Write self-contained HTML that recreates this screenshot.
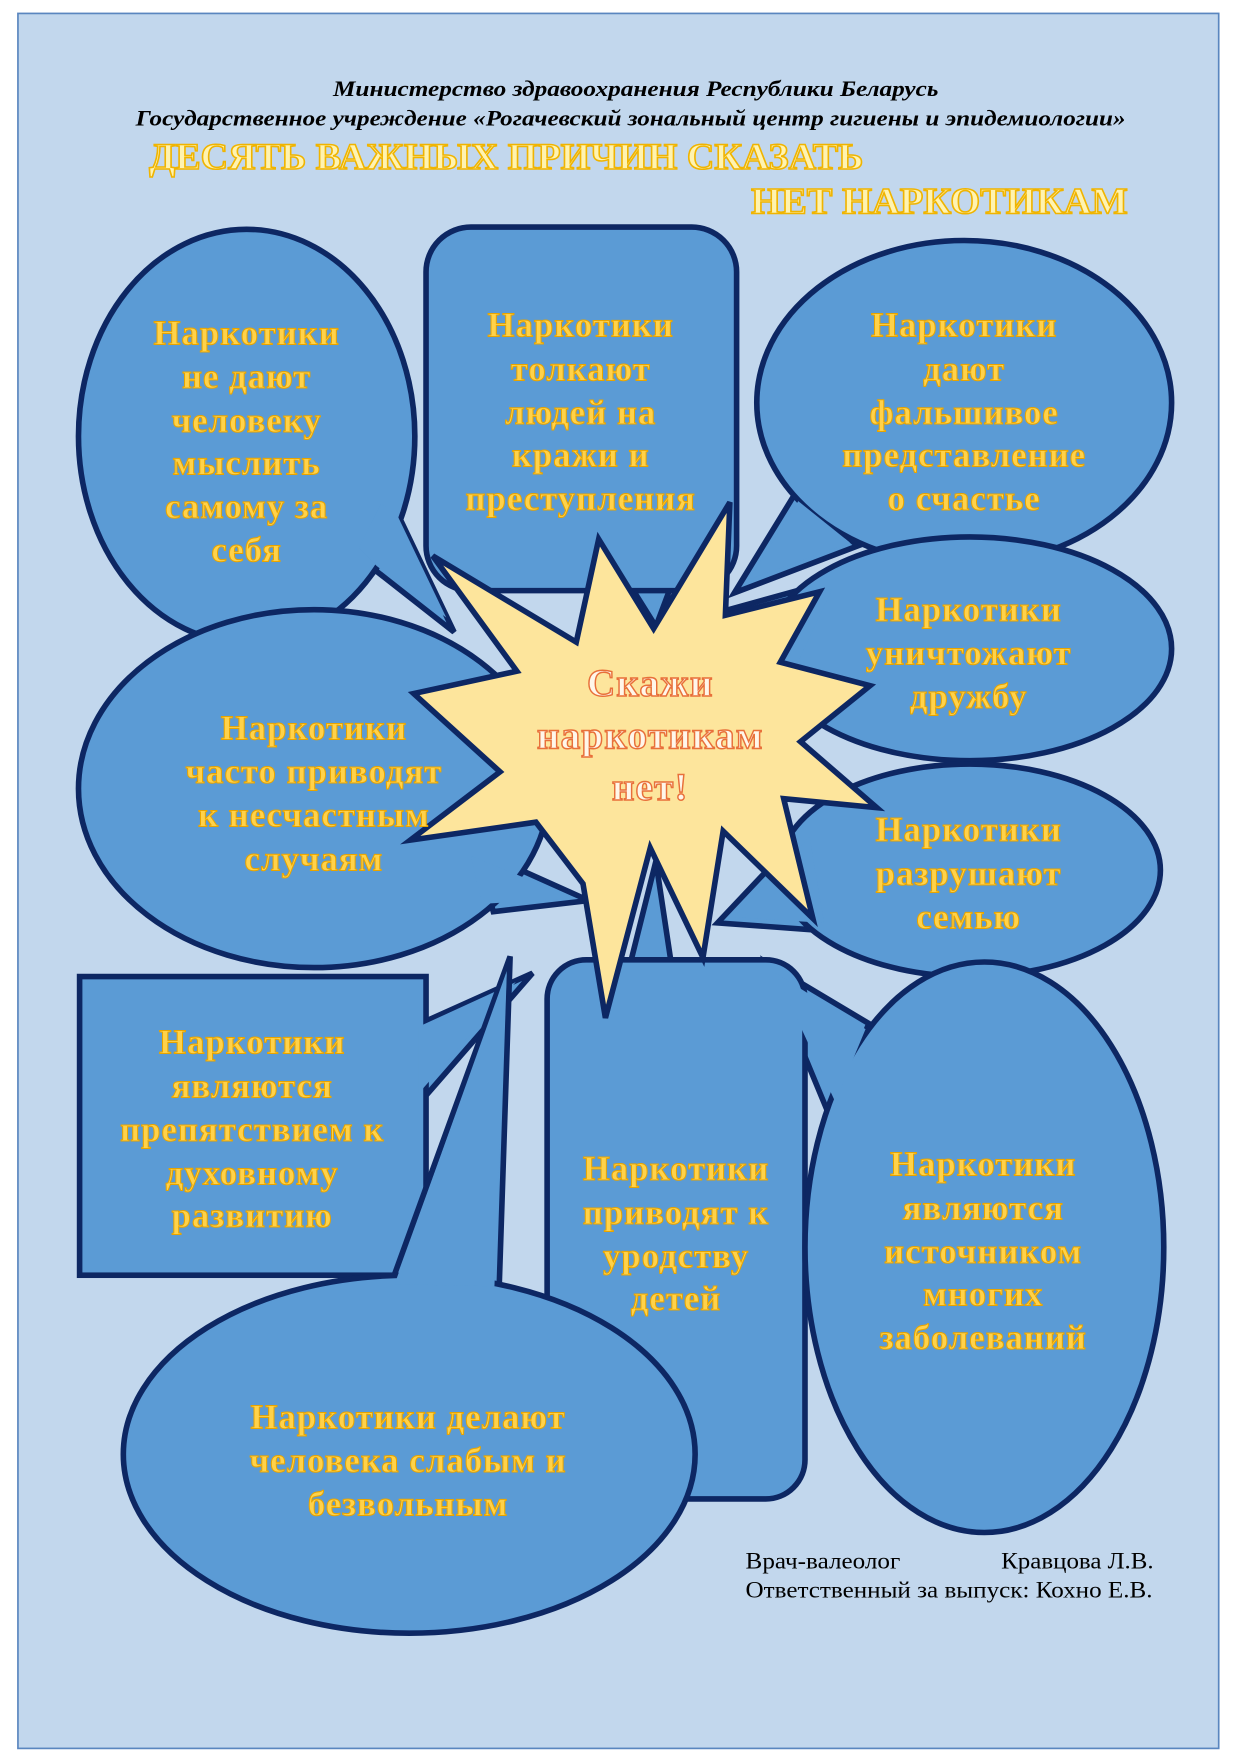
<!DOCTYPE html>
<html><head><meta charset="utf-8"><style>
html,body{margin:0;padding:0;background:#fff}
svg{display:block}
.t{font-family:"Liberation Serif",serif;font-weight:bold;font-size:31px;letter-spacing:0.9px;fill:#ffd24a;stroke:#e8a400;stroke-width:0.9;text-anchor:middle}
.s{fill:#5b9bd5;stroke:#0d2763;stroke-width:5;stroke-linejoin:miter}
.f{fill:#5b9bd5;stroke:none}
</style></head><body>
<svg width="1240" height="1754" viewBox="0 0 1106 1568" preserveAspectRatio="none" xmlns="http://www.w3.org/2000/svg">
<rect x="0" y="0" width="1106" height="1568" fill="#fff"/>
<rect x="16" y="12" width="1071" height="1551" fill="#c2d7ed" stroke="#5a86bf" stroke-width="1.5"/>
<g font-family="Liberation Serif,serif" font-style="italic" font-weight="bold" font-size="20" fill="#000">
<text x="297" y="86" textLength="540" lengthAdjust="spacingAndGlyphs">Министерство здравоохранения Республики Беларусь</text>
<text x="121" y="112" textLength="883" lengthAdjust="spacingAndGlyphs">Государственное учреждение «Рогачевский зональный центр гигиены и эпидемиологии»</text>
</g>
<g font-family="Liberation Serif,serif" font-weight="bold" font-size="33" fill="#fff3b0" stroke="#f0b400" stroke-width="1.4">
<text x="133" y="151" textLength="637" lengthAdjust="spacingAndGlyphs">ДЕСЯТЬ ВАЖНЫХ ПРИЧИН СКАЗАТЬ</text>
<text x="670" y="191" textLength="336" lengthAdjust="spacingAndGlyphs">НЕТ НАРКОТИКАМ</text>
</g>

<!-- top-left ellipse -->
<polygon class="s" points="355,460 405,565 335,510"/>
<ellipse class="s" cx="220" cy="390" rx="150" ry="185"/>
<polygon class="f" points="340,450 355,462 398,552 336,506 320,490"/>
<!-- top-center rect -->
<polygon class="s" points="560,520 600,520 585,560"/>
<rect class="s" x="380" y="203" width="277" height="325" rx="40"/>
<!-- top-right ellipse -->
<polygon class="s" points="710,440 655,530 765,488"/>
<ellipse class="s" cx="860" cy="360" rx="185" ry="145"/>
<polygon class="f" points="712,448 668,518 758,485"/>
<!-- right-mid ellipse -->
<polygon class="s" points="740,520 650,545 705,610"/>
<ellipse class="s" cx="865" cy="580" rx="180" ry="100"/>
<polygon class="f" points="742,527 662,548 708,600"/>
<!-- left-mid ellipse -->
<polygon class="s" points="425,760 525,805 440,815"/>
<ellipse class="s" cx="280" cy="705" rx="210" ry="160"/>
<polygon class="f" points="420,765 512,803 430,808"/>
<!-- right-lower ellipse -->
<polygon class="s" points="720,740 640,825 735,832"/>
<ellipse class="s" cx="865" cy="778" rx="170" ry="95"/>
<polygon class="f" points="722,748 655,820 735,825"/>
<!-- left rect -->
<polygon class="s" points="375,915 475,870 375,985"/>
<rect class="s" x="71" y="873" width="309" height="267"/>
<polygon class="f" points="373,918 460,878 373,978"/>
<!-- right-bottom ellipse -->
<polygon class="s" points="775,915 683,860 740,998"/>
<!-- center-bottom rect -->
<polygon class="s" points="560,870 600,870 585,770"/>
<rect class="s" x="488" y="858" width="230" height="482" rx="35"/>
<ellipse class="s" cx="878" cy="1115" rx="160" ry="255"/>
<polygon class="f" points="772,920 692,870 745,985"/>
<!-- bottom ellipse -->
<polygon class="s" points="348,1150 455,855 445,1158"/>
<ellipse class="s" cx="365" cy="1300" rx="255" ry="160"/>
<polygon class="f" points="352,1148 452,868 441,1150"/>

<!-- star -->
<polygon points="534,482 583,562 651,449 647,550 731,529 696,592 776,613 714,663 782,722 699,714 725,821 645,743 627,856 580,758 540,910 520,790 478,735 366,751 446,690 369,620 461,600 386,497 514,574" fill="#fde59c" stroke="#0d2763" stroke-width="5" stroke-linejoin="miter"/>
<g font-family="Liberation Serif,serif" font-weight="bold" font-size="35" letter-spacing="1" text-anchor="middle" fill="#fff6ea" stroke="#e8703a" stroke-width="1.3">
<text x="580" y="622">Скажи</text>
<text x="580" y="669">наркотикам</text>
<text x="580" y="715">нет!</text>
</g>

<g>
<text class="t" x="220" y="308">Наркотики</text>
<text class="t" x="220" y="347">не дают</text>
<text class="t" x="220" y="386">человеку</text>
<text class="t" x="220" y="424">мыслить</text>
<text class="t" x="220" y="463">самому за</text>
<text class="t" x="220" y="502">себя</text>

<text class="t" x="518" y="301">Наркотики</text>
<text class="t" x="518" y="340">толкают</text>
<text class="t" x="518" y="379">людей на</text>
<text class="t" x="518" y="417">кражи и</text>
<text class="t" x="518" y="456">преступления</text>

<text class="t" x="860" y="301">Наркотики</text>
<text class="t" x="860" y="340">дают</text>
<text class="t" x="860" y="379">фальшивое</text>
<text class="t" x="860" y="417">представление</text>
<text class="t" x="860" y="456">о счастье</text>

<text class="t" x="864" y="555">Наркотики</text>
<text class="t" x="864" y="594">уничтожают</text>
<text class="t" x="864" y="633">дружбу</text>

<text class="t" x="280" y="661">Наркотики</text>
<text class="t" x="280" y="700">часто приводят</text>
<text class="t" x="280" y="739">к несчастным</text>
<text class="t" x="280" y="778">случаям</text>

<text class="t" x="864" y="752">Наркотики</text>
<text class="t" x="864" y="791">разрушают</text>
<text class="t" x="864" y="830">семью</text>

<text class="t" x="225" y="942">Наркотики</text>
<text class="t" x="225" y="981">являются</text>
<text class="t" x="225" y="1020">препятствием к</text>
<text class="t" x="225" y="1059">духовному</text>
<text class="t" x="225" y="1097">развитию</text>

<text class="t" x="603" y="1055">Наркотики</text>
<text class="t" x="603" y="1094">приводят к</text>
<text class="t" x="603" y="1133">уродству</text>
<text class="t" x="603" y="1171">детей</text>

<text class="t" x="877" y="1051">Наркотики</text>
<text class="t" x="877" y="1090">являются</text>
<text class="t" x="877" y="1129">источником</text>
<text class="t" x="877" y="1167">многих</text>
<text class="t" x="877" y="1206">заболеваний</text>

<text class="t" x="364" y="1277">Наркотики делают</text>
<text class="t" x="364" y="1316">человека слабым и</text>
<text class="t" x="364" y="1355">безвольным</text>
</g>

<g font-family="Liberation Serif,serif" font-size="21" fill="#000">
<text x="665" y="1402" textLength="138" lengthAdjust="spacingAndGlyphs">Врач-валеолог</text>
<text x="893" y="1402" textLength="136" lengthAdjust="spacingAndGlyphs">Кравцова Л.В.</text>
<text x="665" y="1428" textLength="363" lengthAdjust="spacingAndGlyphs">Ответственный за выпуск: Кохно Е.В.</text>
</g>
</svg>
</body></html>
